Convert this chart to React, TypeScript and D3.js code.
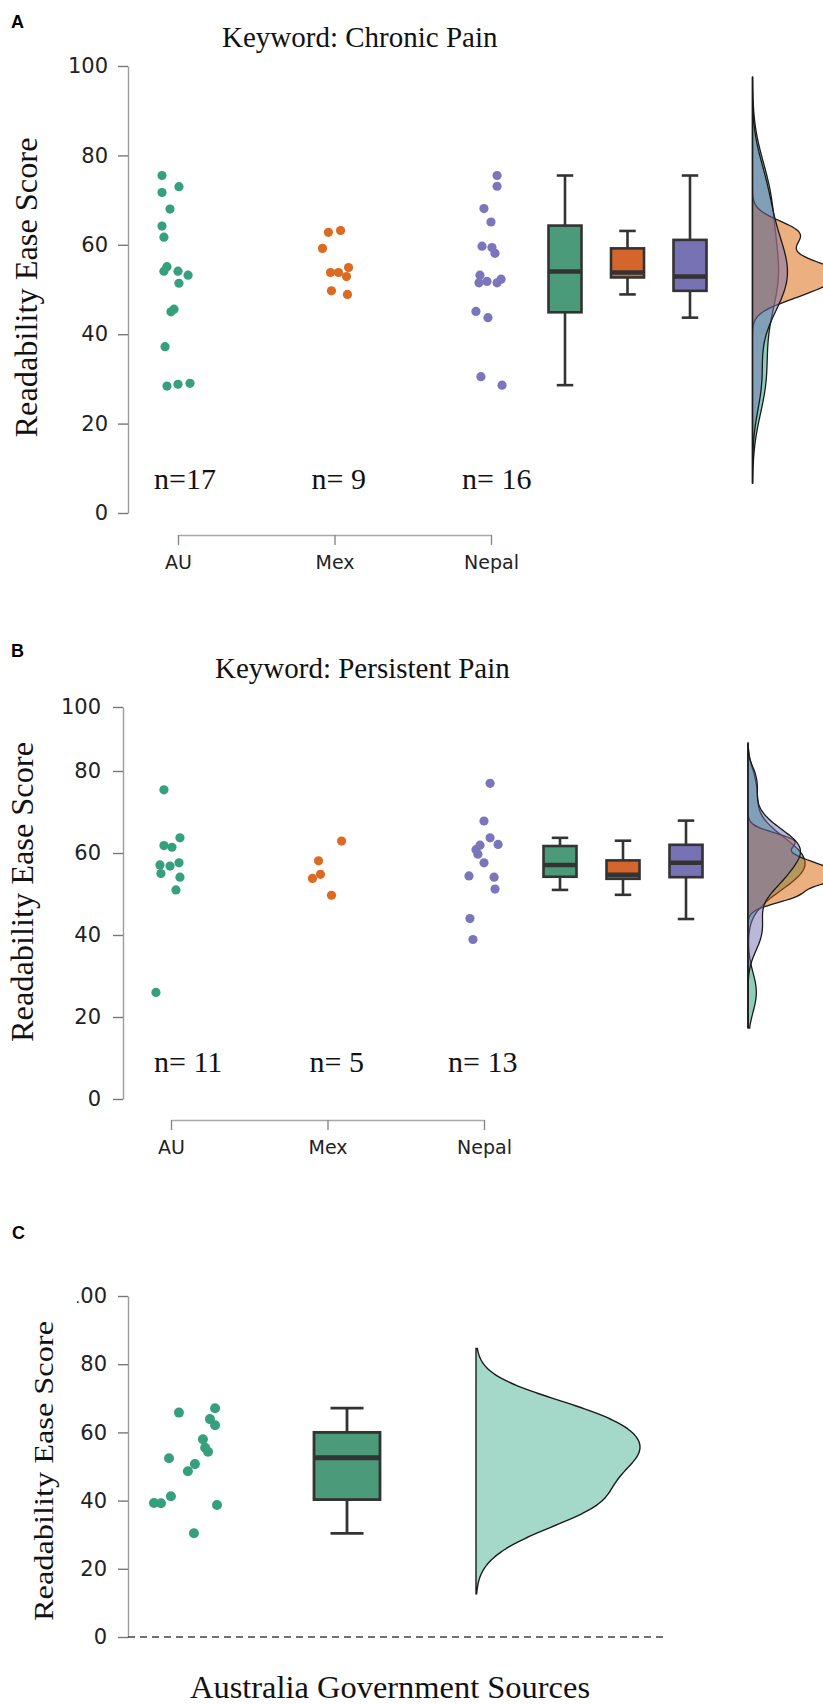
import React, { useRef, useEffect } from 'react'
import * as d3 from 'd3'

const groups = ['AU', 'Mex', 'Nepal']
const dotColors = ['#35a07b', '#dc6a22', '#7b76bb']
const boxColors = ['#4b9a79', '#d4662c', '#7672b3']
const kdeColors = ['#1b9e77', '#d95f02', '#7570b3']
const yTicks = [0, 20, 40, 60, 80, 100]

// A: Keyword: Chronic Pain
const chronicAU = [75.5, 73.0, 71.7, 68.0, 64.2, 61.7, 55.1, 54.1, 54.1, 53.2, 51.4, 45.0, 45.6, 37.2, 28.4, 28.8, 29.0]
const chronicMex = [62.8, 63.2, 59.2, 53.8, 53.8, 54.9, 52.9, 49.7, 48.9]
const chronicNepal = [75.5, 73.1, 68.1, 65.1, 59.7, 59.4, 58.1, 53.2, 51.5, 51.8, 51.5, 52.3, 45.1, 43.7, 30.5, 28.6]
const chronicAUJitter = [-1, 0.06, -1, -0.5, -1, -0.88, -0.69, -0.88, 0, 0.63, 0.06, -0.44, -0.25, -0.81, -0.69, 0, 0.75]
const chronicMexJitter = [-0.38, 0.38, -0.75, -0.25, 0.25, 0.88, 0.75, -0.19, 0.81]
const chronicNepalJitter = [0.38, 0.38, -0.44, 0, -0.56, 0.06, 0.25, -0.69, -0.75, -0.25, 0.38, 0.63, -0.94, -0.19, -0.63, 0.69]
// [lower whisker, q1, median, q3, upper whisker]
const chronicBoxes = [
  [28.6, 44.9, 54.0, 64.3, 75.5],
  [48.9, 52.7, 53.8, 59.2, 63.1],
  [43.7, 49.7, 52.9, 61.1, 75.5],
]
const chronicN = ['n=17', 'n= 9', 'n= 16']
const chronicKdeRange = [6.7, 97.5]

// B: Keyword: Persistent Pain
const persistAU = [75.4, 63.7, 61.8, 61.4, 57.1, 56.8, 57.6, 55.0, 54.1, 51.0, 26.0]
const persistMex = [62.9, 58.1, 54.8, 53.8, 49.7]
const persistNepal = [77.0, 67.8, 63.7, 62.1, 61.9, 59.7, 57.6, 54.4, 54.1, 51.2, 44.0, 38.9, 60.8]
const persistAUJitter = [-0.44, 0.56, -0.44, 0.06, -0.69, -0.06, 0.5, -0.63, 0.56, 0.31, -0.94]
const persistMexJitter = [0.88, -0.56, -0.44, -0.94, 0.25]
const persistNepalJitter = [0.38, 0, 0.38, 0.88, -0.25, -0.38, 0, -0.94, 0.63, 0.69, -0.88, -0.69, -0.5]
const persistBoxes = [
  [51.0, 54.2, 57.1, 61.7, 63.7],
  [49.8, 53.7, 54.7, 58.2, 63.0],
  [43.9, 54.1, 57.6, 62.0, 67.9],
]
const persistN = ['n= 11', 'n= 5', 'n= 13']
const persistKdeRange = [17.3, 88.7]

// C: Australia Government Sources
const govValues = [67.1, 65.8, 63.9, 62.1, 58.0, 55.5, 54.3, 52.4, 50.7, 48.6, 41.3, 39.3, 39.2, 38.7, 30.4]
const govJitter = [0.94, -0.19, 0.78, 0.94, 0.56, 0.63, 0.72, -0.5, 0.31, 0.09, -0.44, -0.97, -0.75, 1, 0.28]
const govBox = [30.4, 40.3, 52.6, 60.0, 67.1]
const govKdeRange = [12.7, 84.6]

const gauss = (u: number) => Math.exp(-0.5 * u * u) / Math.sqrt(2 * Math.PI)

function kde(values: number[], bw: number, range: number[]) {
  const [lo, hi] = range
  return d3.range(0, 241).map((i) => {
    const v = lo + ((hi - lo) * i) / 240
    return [v, (d3.mean(values, (x) => gauss((v - x) / bw)) as number) / bw] as [number, number]
  })
}

const serif = 'Liberation Serif, Times New Roman, serif'
const sans = 'DejaVu Sans, Verdana, sans-serif'

function YAxis({ y, x, pad }: any) {
  const ref = useRef<SVGGElement>(null)
  useEffect(() => {
    const g = d3.select(ref.current!)
    g.call(d3.axisLeft(y).tickValues(yTicks).tickSize(10).tickPadding(pad).tickSizeOuter(0) as any)
    g.attr('font-size', null).attr('font-family', null)
    g.select('.domain').attr('stroke', '#9c9c9c').attr('stroke-width', 1.4)
    g.selectAll('.tick line').attr('stroke', '#777').attr('stroke-width', 1.4)
    g.selectAll('.tick text').attr('fill', '#222').attr('font-size', 21).attr('font-family', sans)
  })
  return <g ref={ref} transform={`translate(${x},0)`} />
}

function XAxis({ x, y }: any) {
  const ref = useRef<SVGGElement>(null)
  useEffect(() => {
    const g = d3.select(ref.current!)
    g.call(d3.axisBottom(x).tickSize(10).tickPadding(11).tickSizeOuter(0) as any)
    g.attr('font-size', null).attr('font-family', null)
    g.select('.domain').attr('stroke', '#a8a8a8').attr('stroke-width', 1.4)
    g.selectAll('.tick line').attr('stroke', '#888').attr('stroke-width', 1.4)
    g.selectAll('.tick text').attr('fill', '#222').attr('font-size', 19).attr('font-family', sans)
  })
  return <g ref={ref} transform={`translate(0,${y})`} />
}

function BoxPlot({ stats, cx, w, y, fill, sw = 2.6, mw = 4.5 }: any) {
  const [lo, q1, med, q3, hi] = stats
  const stroke = '#333'
  return (
    <g>
      <line x1={cx} x2={cx} y1={y(hi)} y2={y(q3)} stroke={stroke} strokeWidth={sw} />
      <line x1={cx} x2={cx} y1={y(q1)} y2={y(lo)} stroke={stroke} strokeWidth={sw} />
      <line x1={cx - w / 4} x2={cx + w / 4} y1={y(hi)} y2={y(hi)} stroke={stroke} strokeWidth={sw} />
      <line x1={cx - w / 4} x2={cx + w / 4} y1={y(lo)} y2={y(lo)} stroke={stroke} strokeWidth={sw} />
      <rect x={cx - w / 2} y={y(q3)} width={w} height={y(q1) - y(q3)} fill={fill} stroke={stroke} strokeWidth={sw} />
      <line x1={cx - w / 2} x2={cx + w / 2} y1={y(med)} y2={y(med)} stroke={stroke} strokeWidth={mw} />
    </g>
  )
}

function RainPanel({ cfg }: any) {
  const { y, x, boxX, base, axisX, axisY, pad, values, jitters, boxes, nLabels, nShift, nY, kdeRange, widthK, bwK } = cfg
  const jit = d3.scaleLinear().domain([-1, 1]).range([-16, 16])
  const curves = values.map((vals: number[]) => kde(vals, bwK * (d3.deviation(vals) as number), kdeRange))
  const w = d3.scaleLinear().domain([0, 1]).range([0, widthK])
  const area = d3
    .area<[number, number]>()
    .x0(base)
    .x1((d) => base + w(d[1]))
    .y((d) => y(d[0]))
    .curve(d3.curveBasis)
  return (
    <g>
      <YAxis y={y} x={axisX} pad={pad} />
      <XAxis x={x} y={axisY} />
      {values.map((vals: number[], gi: number) =>
        vals.map((v, i) => (
          <circle key={`${gi}-${i}`} cx={(x(groups[gi]) as number) + jit(jitters[gi][i])} cy={y(v)} r={4.6} fill={dotColors[gi]} />
        ))
      )}
      {nLabels.map((t: string, i: number) => (
        <text key={t} x={(x(groups[i]) as number) + nShift[i]} y={nY} fontFamily={serif} fontSize={30} fill="#111">
          {t}
        </text>
      ))}
      {boxes.map((b: number[], i: number) => (
        <BoxPlot key={i} stats={b} cx={boxX(groups[i])} w={33} y={y} fill={boxColors[i]} />
      ))}
      {curves.map((c: [number, number][], i: number) => (
        <path key={i} d={area(c) as string} fill={kdeColors[i]} fillOpacity={0.5} stroke="#1a1a1a" strokeWidth={1.3} />
      ))}
    </g>
  )
}

export default function App() {
  const panelA = {
    y: d3.scaleLinear().domain([0, 100]).range([513, 66]),
    x: d3.scalePoint().domain(groups).range([178, 491]),
    boxX: d3.scalePoint().domain(groups).range([565, 690]),
    base: 752.5,
    axisX: 128,
    axisY: 535,
    pad: 10,
    values: [chronicAU, chronicMex, chronicNepal],
    jitters: [chronicAUJitter, chronicMexJitter, chronicNepalJitter],
    boxes: chronicBoxes,
    nLabels: chronicN,
    nShift: [-24, -23, -29],
    nY: 489,
    kdeRange: chronicKdeRange,
    widthK: 1150,
    bwK: 0.5,
  }
  const panelB = {
    y: d3.scaleLinear().domain([0, 80, 100]).range([1099, 771, 707]),
    x: d3.scalePoint().domain(groups).range([171, 484]),
    boxX: d3.scalePoint().domain(groups).range([560, 686]),
    base: 748,
    axisX: 123,
    axisY: 1120,
    pad: 12,
    values: [persistAU, persistMex, persistNepal],
    jitters: [persistAUJitter, persistMexJitter, persistNepalJitter],
    boxes: persistBoxes,
    nLabels: persistN,
    nShift: [-17, -18, -36],
    nY: 1072,
    kdeRange: persistKdeRange,
    widthK: 1100,
    bwK: 0.4,
  }

  // panel C
  const yC = d3.scaleLinear().domain([0, 100]).range([1637, 1296])
  const jitC = d3.scaleLinear().domain([-1, 1]).range([-32, 32])
  const xC = d3.scalePoint().domain(['points', 'box', 'cloud']).range([185, 476])
  const govBw = (d3.deviation(govValues) as number) * Math.pow(govValues.length, -0.2)
  const govCurve = kde(govValues, govBw, govKdeRange)
  const wC = d3.scaleLinear().domain([0, d3.max(govCurve, (d) => d[1]) as number]).range([0, 164])
  const baseC = xC('cloud') as number
  const areaC = d3
    .area<[number, number]>()
    .x0(baseC)
    .x1((d) => baseC + wC(d[1]))
    .y((d) => yC(d[0]))
    .curve(d3.curveBasis)

  return (
    <svg width={823} height={1705} style={{ position: 'absolute', left: 0, top: 0, background: '#fff' }}>
      <defs>
        <clipPath id="clipC" clipPathUnits="userSpaceOnUse">
          <rect x={77} y={1250} width={300} height={420} />
        </clipPath>
      </defs>

      {/* A */}
      <text x={11} y={28} fontFamily="Liberation Sans, Arial, sans-serif" fontWeight="bold" fontSize={18}>A</text>
      <text x={222} y={47} fontFamily={serif} fontSize={29} fill="#111">Keyword: Chronic Pain</text>
      <text transform="translate(37,287.5) rotate(-90)" textAnchor="middle" fontFamily={serif} fontSize={32} textLength={300} lengthAdjust="spacingAndGlyphs" fill="#111">
        Readability Ease Score
      </text>
      <RainPanel cfg={panelA} />

      {/* B */}
      <text x={11} y={657} fontFamily="Liberation Sans, Arial, sans-serif" fontWeight="bold" fontSize={18}>B</text>
      <text x={215} y={678} fontFamily={serif} fontSize={29} fill="#111">Keyword: Persistent Pain</text>
      <text transform="translate(33,892) rotate(-90)" textAnchor="middle" fontFamily={serif} fontSize={32} textLength={300} lengthAdjust="spacingAndGlyphs" fill="#111">
        Readability Ease Score
      </text>
      <RainPanel cfg={panelB} />

      {/* C */}
      <text x={12} y={1239} fontFamily="Liberation Sans, Arial, sans-serif" fontWeight="bold" fontSize={18}>C</text>
      <text transform="translate(53,1471) rotate(-90)" textAnchor="middle" fontFamily={serif} fontSize={27} textLength={300} lengthAdjust="spacingAndGlyphs" fill="#111">
        Readability Ease Score
      </text>
      <g clipPath="url(#clipC)">
        <YAxis y={yC} x={128} pad={11} />
      </g>
      <line x1={128} x2={663} y1={yC(0)} y2={yC(0)} stroke="#444" strokeWidth={1.4} strokeDasharray="7 5" />
      {govValues.map((v, i) => (
        <circle key={i} cx={(xC('points') as number) + jitC(govJitter[i])} cy={yC(v)} r={5} fill={dotColors[0]} />
      ))}
      <BoxPlot stats={govBox} cx={347} w={66} y={yC} fill={boxColors[0]} sw={2.8} mw={5} />
      <path d={areaC(govCurve) as string} fill="#1b9e77" fillOpacity={0.4} stroke="#1a1a1a" strokeWidth={1.4} />
      <text x={390} y={1698} textAnchor="middle" fontFamily={serif} fontSize={32} textLength={400} lengthAdjust="spacingAndGlyphs" fill="#111">
        Australia Government Sources
      </text>
    </svg>
  )
}
